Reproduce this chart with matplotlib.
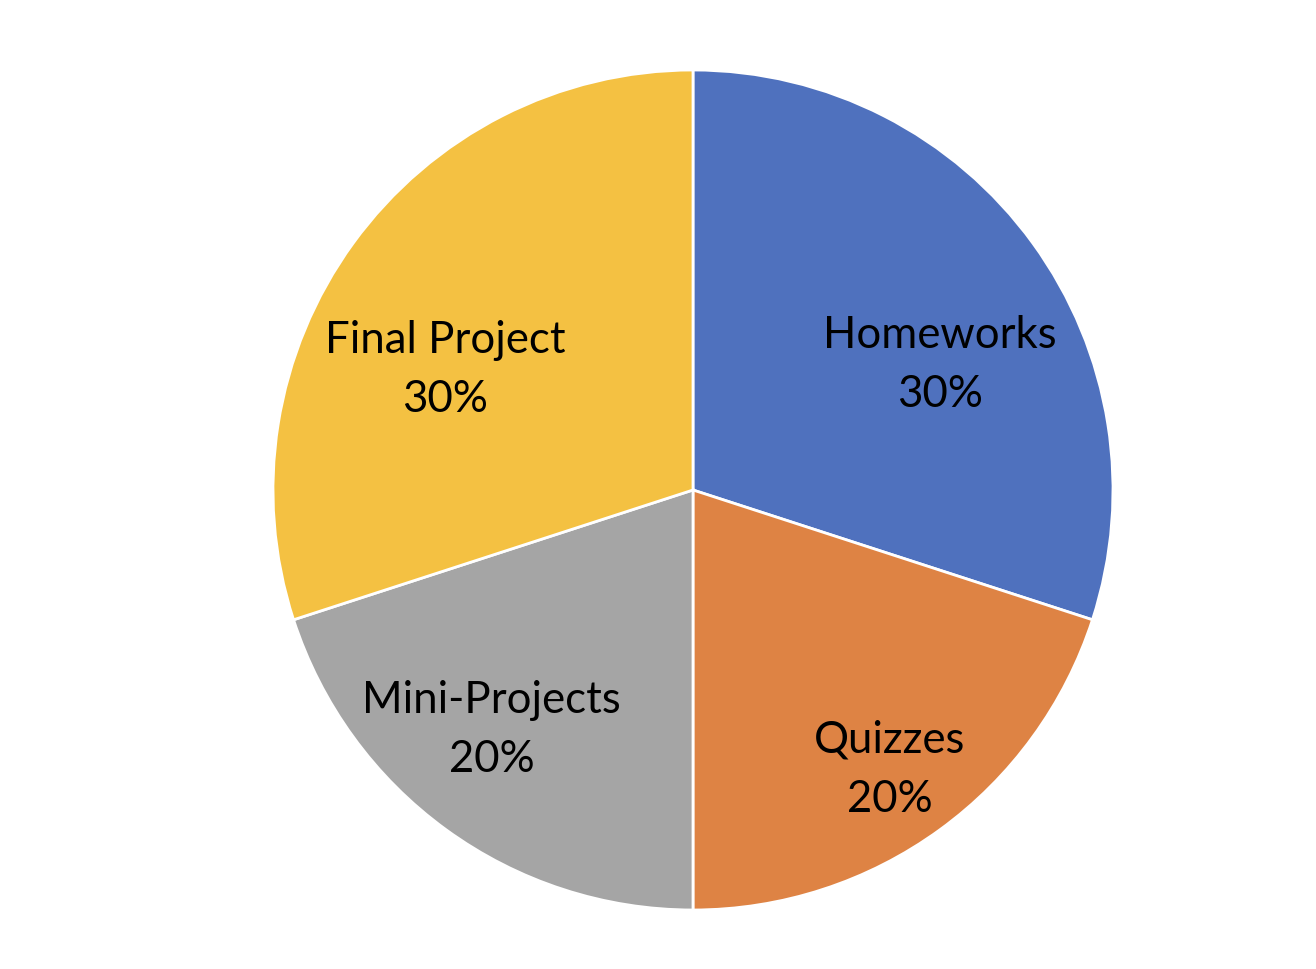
import matplotlib
matplotlib.use("Agg")
import matplotlib.pyplot as plt

categories = ["Homeworks", "Quizzes", "Mini-Projects", "Final Project"]
values = [30, 20, 20, 30]
colors = ["#4F71BE", "#DE8344", "#A5A5A5", "#F4C142"]
# label positions relative to radius
label_pos = [(0.588, 0.30), (0.469, -0.664), (-0.479, -0.569), (-0.59, 0.288)]

W, H = 1316, 970
fig = plt.figure(figsize=(W / 100, H / 100), dpi=100)
cx, cy, r = 693, 970 - 491, 420
ax = fig.add_axes([(cx - r) / W, (cy - r) / H, 2 * r / W, 2 * r / H])
ax.pie(values, colors=colors, startangle=90, counterclock=False,
       wedgeprops=dict(edgecolor="white", linewidth=2))
ax.set_xlim(-1, 1)
ax.set_ylim(-1, 1)
ax.set_aspect("equal")
ax.axis("off")
for cat, v, (x, y) in zip(categories, values, label_pos):
    ax.text(x, y, f"{cat}\n{v}%", ha="center", va="center", fontsize=31.5,
            family="Lato", linespacing=1.55, color="black")
fig.savefig("out.png", dpi=100)
